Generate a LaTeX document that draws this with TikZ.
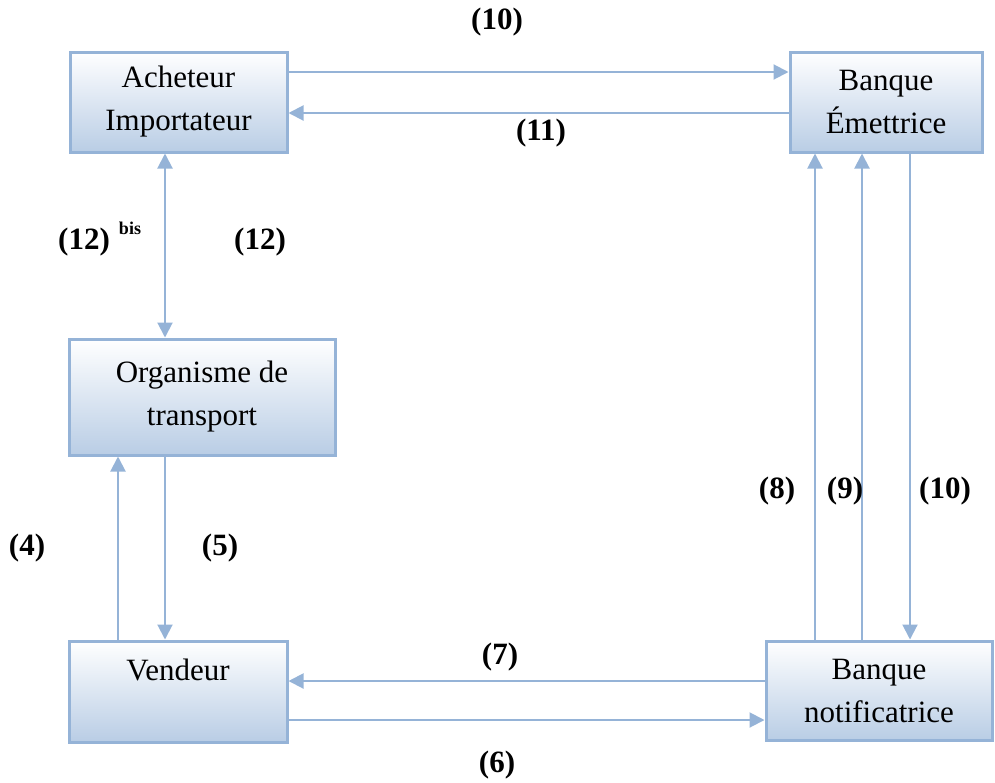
\documentclass[tikz,border=0pt]{standalone}
\usepackage{fontspec}
\setmainfont{Liberation Serif}
\usetikzlibrary{arrows.meta}
\definecolor{ligne}{HTML}{95B3D7}
\definecolor{fond}{HTML}{B9CDE5}
\tikzset{
    boite/.style={draw=ligne, line width=3pt, rectangle, inner sep=0pt,
        top color=white, bottom color=fond, align=center,
        font=\fontsize{31}{43}\selectfont},
    fleche/.style={draw=ligne, line width=2pt, -{Triangle[length=15pt,width=15pt]}},
    etiq/.style={font=\fontsize{31}{36}\selectfont\bfseries, inner sep=0pt}
}

\begin{document}
\begin{tikzpicture}[x=1pt, y=-1pt]

  \useasboundingbox (0,0) rectangle (995,782);

  % Boites
  \node[boite, minimum width=217pt, minimum height=100pt] (acheteur) at (178.5,102) {Acheteur\\Importateur};
  \node[boite, minimum width=192pt, minimum height=100pt] (emettrice) at (886,102) {Banque\\Émettrice};
  \node[boite, minimum width=266pt, minimum height=116pt] (transport) at (202,397) {Organisme de\\transport};
  \node[boite, minimum width=218pt, minimum height=101pt] (vendeur) at (178,691.5) {Vendeur\\\mbox{}};
  \node[boite, minimum width=226pt, minimum height=99pt] (notif) at (879,690.5) {Banque\\notificatrice};

  % Fleches horizontales
  \draw[fleche] (acheteur.east |- 0,72) -- (emettrice.west |- 0,72);
  \draw[fleche] (emettrice.west |- 0,113) -- (acheteur.east |- 0,113);
  \draw[fleche] (notif.west |- 0,681) -- (vendeur.east |- 0,681);
  \draw[fleche] (vendeur.east |- 0,720) -- (notif.west |- 0,720);

  % Fleches verticales
  \draw[fleche, {Triangle[length=15pt,width=15pt]}-{Triangle[length=15pt,width=15pt]}]
    (165,0 |- acheteur.south) -- (165,0 |- transport.north);
  \draw[fleche] (118,0 |- vendeur.north) -- (118,0 |- transport.south);
  \draw[fleche] (165,0 |- transport.south) -- (165,0 |- vendeur.north);
  \draw[fleche] (815,0 |- notif.north) -- (815,0 |- emettrice.south);
  \draw[fleche] (862,0 |- notif.north) -- (862,0 |- emettrice.south);
  \draw[fleche] (910,0 |- emettrice.south) -- (910,0 |- notif.north);

  % Etiquettes
  \node[etiq] (e10h) at (497,22) {(10)};
  \node[etiq] (e11) at (541,133) {(11)};
  \node[etiq] (e12b) at (84,242) {(12)};
  \node[etiq, font=\fontsize{18}{20}\selectfont\bfseries] (ebis) at (130,228) {bis};
  \node[etiq] (e12) at (260,242) {(12)};
  \node[etiq] (e4) at (27,548) {(4)};
  \node[etiq] (e5) at (220,548) {(5)};
  \node[etiq] (e7) at (500,657) {(7)};
  \node[etiq] (e6) at (497,765) {(6)};
  \node[etiq] (e8) at (777,491) {(8)};
  \node[etiq] (e9) at (845,491) {(9)};
  \node[etiq] (e10v) at (945,491) {(10)};

\end{tikzpicture}
\end{document}
